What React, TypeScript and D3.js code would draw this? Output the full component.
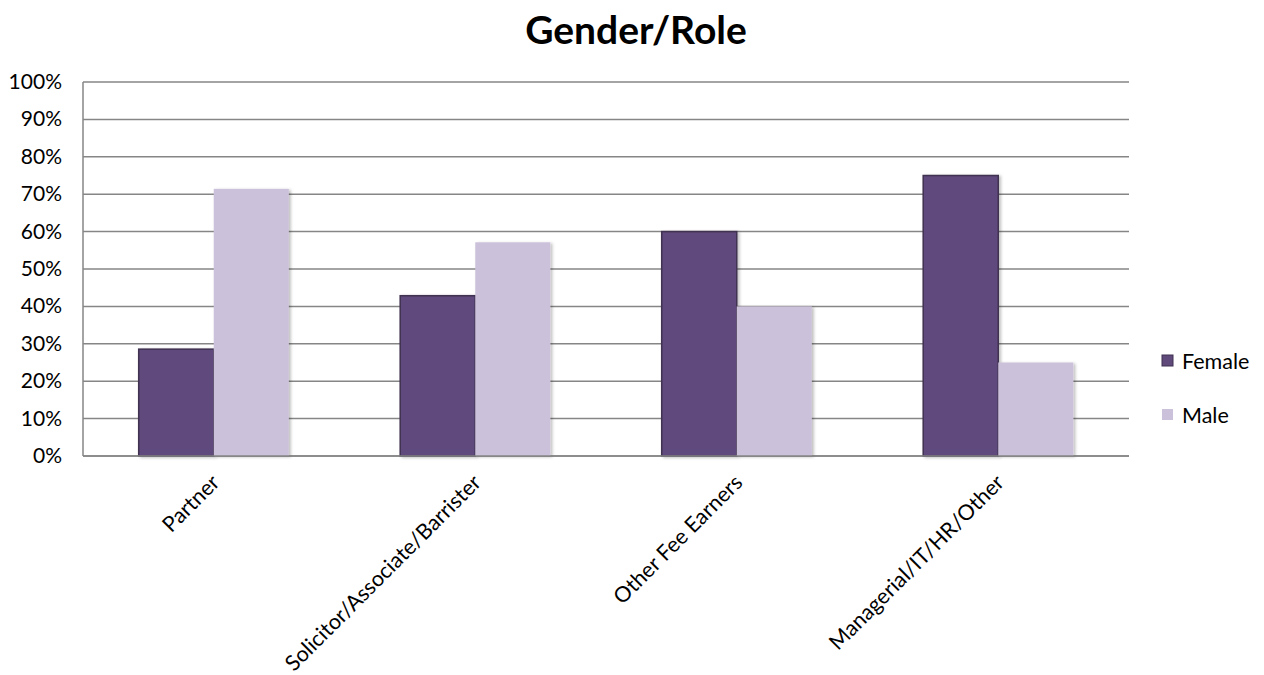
import React from "react";
import * as d3 from "d3";

const categories = ["Partner", "Solicitor/Associate/Barrister", "Other Fee Earners", "Managerial/IT/HR/Other"];
const seriesNames = ["Female", "Male"];
const female = [28.57, 42.86, 60, 75];
const male = [71.43, 57.14, 40, 25];
const yTicks = [0, 10, 20, 30, 40, 50, 60, 70, 80, 90, 100];

const colors: Record<string, string> = { Female: "#604A7B", Male: "#CCC1DA" };
const strokes: Record<string, string> = { Female: "#3F3151", Male: "none" };

export default function App() {
  const W = 1264, H = 675;
  const left = 83, right = 1129, top = 82, bottom = 456;
  const x = d3.scaleBand<string>().domain(categories).range([left, right]).paddingInner(0.426).paddingOuter(0.213);
  const x1 = d3.scaleBand<string>().domain(seriesNames).range([0, x.bandwidth()]);
  const y = d3.scaleLinear().domain([0, 100]).range([bottom, top]);
  const data = [female, male];
  const font = "Lato, 'Open Sans', sans-serif";
  return (
    <svg width={W} height={H} style={{ position: "absolute", left: 0, top: 0, background: "#fff" }}>
      <defs>
        <filter id="sh" x="-10%" y="-10%" width="130%" height="130%">
          <feDropShadow dx="2" dy="1" stdDeviation="1.5" floodColor="#000" floodOpacity="0.25" />
        </filter>
      </defs>
      <text x={636} y={44} textAnchor="middle" fontFamily={font} fontWeight="bold" fontSize={39} fill="#000">Gender/Role</text>
      {yTicks.map((t) => (
        <g key={t}>
          <line x1={left} x2={right} y1={y(t)} y2={y(t)} stroke="#868686" strokeWidth={1.5} />
          <text x={62} y={y(t) + 7} textAnchor="end" fontFamily={font} fontSize={21} fill="#000">{t}%</text>
        </g>
      ))}
      <line x1={left} x2={left} y1={top} y2={bottom} stroke="#868686" strokeWidth={1.5} />
      {categories.map((c, i) => (
        <g key={c}>
          {seriesNames.map((s, j) => {
            const v = data[j][i];
            const bx = (x(c) as number) + (x1(s) as number);
            return (
              <rect key={s} x={bx} y={y(v)} width={x1.bandwidth()} height={bottom - y(v)}
                fill={colors[s]} stroke={strokes[s]} strokeWidth={1.5} filter="url(#sh)" />
            );
          })}
          <text transform={`translate(${(x(c) as number) + x.bandwidth() / 2 + 7},${484}) rotate(-45)`}
            textAnchor="end" fontFamily={font} fontSize={21.5} fill="#000">{c}</text>
        </g>
      ))}
      <line x1={left} x2={right} y1={bottom} y2={bottom} stroke="#868686" strokeWidth={1.5} />
      {seriesNames.map((s, j) => (
        <g key={s}>
          <rect x={1162} y={355 + j * 54} width={11} height={11} fill={colors[s]} stroke={strokes[s]} strokeWidth={1} />
          <text x={1182} y={369 + j * 54} fontFamily={font} fontSize={21.5} fill="#000">{s}</text>
        </g>
      ))}
    </svg>
  );
}
